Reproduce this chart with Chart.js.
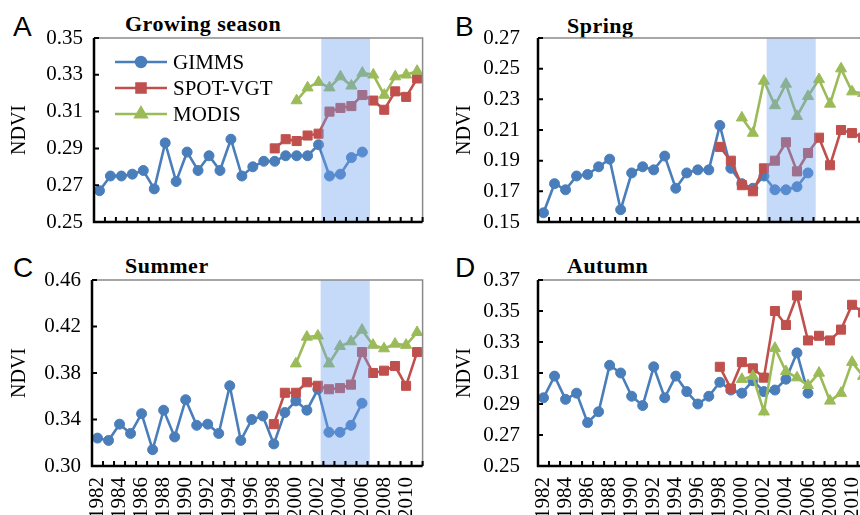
<!DOCTYPE html>
<html>
<head>
<meta charset="utf-8">
<script src="https://cdn.jsdelivr.net/npm/chart.js@4.4.0/dist/chart.umd.min.js"></script>
<style>
  html, body { margin: 0; padding: 0; background: #fff; }
  body { width: 860px; height: 515px; overflow: hidden; position: relative; font-family: "Liberation Serif", "Times New Roman", serif; }
  canvas { position: absolute; }
  .letter { position: absolute; font-family: "Liberation Sans", Arial, sans-serif; font-size: 28px; line-height: 28px; color: #000; }
  .title { position: absolute; font-weight: bold; font-size: 22px; line-height: 22px; color: #000; letter-spacing: 0.5px; }
</style>
</head>
<body>
<div class="letter" style="left:13px;top:13px">A</div>
<div class="title" style="left:125px;top:13px">Growing season</div>
<div class="letter" style="left:455px;top:13px">B</div>
<div class="title" style="left:567px;top:15px">Spring</div>
<div class="letter" style="left:13px;top:254px">C</div>
<div class="title" style="left:125px;top:255px">Summer</div>
<div class="letter" style="left:455px;top:254px">D</div>
<div class="title" style="left:567px;top:255px">Autumn</div>

<canvas id="chartA" width="430" height="240" style="left:0;top:0"></canvas>
<canvas id="chartB" width="446" height="240" style="left:430px;top:0"></canvas>
<canvas id="chartC" width="430" height="275" style="left:0;top:240px"></canvas>
<canvas id="chartD" width="446" height="275" style="left:430px;top:240px"></canvas>

<script>
const years = [
  "1982", "1983", "1984", "1985", "1986", "1987", "1988", "1989", "1990", "1991",
  "1992", "1993", "1994", "1995", "1996", "1997", "1998", "1999", "2000", "2001",
  "2002", "2003", "2004", "2005", "2006", "2007", "2008", "2009", "2010", "2011"
];
const seriesNames = ["GIMMS", "SPOT-VGT", "MODIS"];
const gimmsStart = 1982, spotStart = 1998, modisStart = 2000;

// A - growing season
const gimmsGrow = [0.267, 0.275, 0.275, 0.276, 0.278, 0.268, 0.293, 0.272, 0.288, 0.278,
  0.286, 0.278, 0.295, 0.275, 0.280, 0.283, 0.283, 0.286, 0.286, 0.286,
  0.292, 0.275, 0.276, 0.285, 0.288];
const spotGrow = [0.290, 0.295, 0.294, 0.297, 0.298, 0.310, 0.312, 0.313, 0.319, 0.316,
  0.311, 0.321, 0.318, 0.328];
const modisGrow = [0.316, 0.323, 0.326, 0.323, 0.329, 0.324, 0.331, 0.330, 0.319, 0.329,
  0.330, 0.332];

// B - spring
const gimmsSpring = [0.156, 0.175, 0.171, 0.180, 0.181, 0.186, 0.191, 0.158, 0.182, 0.186,
  0.184, 0.193, 0.172, 0.182, 0.184, 0.184, 0.213, 0.185, 0.175, 0.172,
  0.180, 0.171, 0.171, 0.173, 0.182];
const spotSpring = [0.199, 0.190, 0.174, 0.170, 0.185, 0.190, 0.202, 0.183, 0.195, 0.205,
  0.187, 0.210, 0.208, 0.205];
const modisSpring = [0.218, 0.208, 0.242, 0.226, 0.240, 0.219, 0.232, 0.243, 0.227, 0.250,
  0.235, 0.234];

// C - summer
const gimmsSummer = [0.324, 0.322, 0.336, 0.328, 0.345, 0.314, 0.348, 0.325, 0.357, 0.335,
  0.336, 0.328, 0.369, 0.322, 0.340, 0.343, 0.319, 0.346, 0.356, 0.348,
  0.366, 0.329, 0.329, 0.335, 0.354];
const spotSummer = [0.336, 0.363, 0.363, 0.372, 0.369, 0.366, 0.367, 0.370, 0.398, 0.380,
  0.382, 0.386, 0.369, 0.398];
const modisSummer = [0.388, 0.411, 0.412, 0.388, 0.403, 0.407, 0.417, 0.404, 0.401, 0.405,
  0.404, 0.415];

// D - autumn
const gimmsAutumn = [0.294, 0.308, 0.293, 0.297, 0.278, 0.285, 0.315, 0.310, 0.295, 0.289,
  0.314, 0.294, 0.308, 0.298, 0.290, 0.295, 0.304, 0.299, 0.297, 0.305,
  0.298, 0.299, 0.306, 0.323, 0.297];
const spotAutumn = [0.314, 0.300, 0.317, 0.313, 0.307, 0.350, 0.341, 0.360, 0.331, 0.334,
  0.331, 0.338, 0.354, 0.349];
const modisAutumn = [0.306, 0.308, 0.285, 0.326, 0.311, 0.307, 0.302, 0.310, 0.292, 0.297,
  0.317, 0.308];

// highlighted period (years, as drawn)
const shadeFrom = 2002.25, shadeTo = 2006.7;

const blue = "#4a7ebb", red = "#c0504d", green = "#9bbb59";
const serif = "'Liberation Serif', 'Times New Roman', serif";

function onYears(values, start) {
  const out = years.map(() => null);
  values.forEach((v, i) => { out[start - 1982 + i] = v; });
  return out;
}

const panelPlugin = {
  id: "panel",
  afterDatasetsDraw(chart, args, opts) {
    if (!opts.shade) return;
    const { ctx, chartArea: a, scales: { x } } = chart;
    const x0 = x.getPixelForValue(shadeFrom - 1982);
    const x1 = x.getPixelForValue(shadeTo - 1982);
    ctx.save();
    ctx.fillStyle = "rgba(110,160,240,0.4)";
    ctx.fillRect(x0, a.top, x1 - x0, a.bottom - a.top);
    ctx.restore();
  },
  afterDraw(chart, args, opts) {
    const { ctx, chartArea: a, scales: { x, y } } = chart;
    ctx.save();
    // thin grey frame top / right
    ctx.strokeStyle = "#8a8a8a";
    ctx.lineWidth = 1.5;
    ctx.beginPath();
    ctx.moveTo(a.left, a.top);
    ctx.lineTo(a.right, a.top);
    ctx.lineTo(a.right, a.bottom);
    ctx.stroke();
    // black axes
    ctx.strokeStyle = "#000";
    ctx.lineWidth = 2.5;
    ctx.beginPath();
    ctx.moveTo(a.left, a.top);
    ctx.lineTo(a.left, a.bottom);
    ctx.lineTo(a.right, a.bottom);
    ctx.stroke();
    // tick marks, inside
    ctx.lineWidth = 2;
    ctx.beginPath();
    for (let i = 0; i <= years.length; i++) {
      const px = x.getPixelForValue(i - 0.5);
      ctx.moveTo(px, a.bottom);
      ctx.lineTo(px, a.bottom - 5);
    }
    y.ticks.forEach((t, i) => {
      const py = y.getPixelForTick(i);
      ctx.moveTo(a.left, py);
      ctx.lineTo(a.left + 5, py);
    });
    ctx.stroke();

    // legend inside panel A
    if (opts.legend) {
      const rows = [62, 88, 114];
      chart.data.datasets.forEach((ds, i) => {
        const ly = rows[i];
        ctx.strokeStyle = ds.borderColor;
        ctx.fillStyle = ds.backgroundColor;
        ctx.lineWidth = 2.5;
        ctx.beginPath();
        ctx.moveTo(a.left + 21, ly);
        ctx.lineTo(a.left + 73, ly);
        ctx.stroke();
        Chart.helpers.drawPoint(ctx, { pointStyle: ds.pointStyle, radius: ds.pointRadius, rotation: 0, borderWidth: 1 }, a.left + 47, ly);
        ctx.fillStyle = "#000";
        ctx.font = "21px " + serif;
        ctx.textBaseline = "middle";
        ctx.textAlign = "left";
        ctx.fillText(ds.label, a.left + 79, ly + 1);
      });
    }
    ctx.restore();
  }
};

function makePanel(id, box, series, yr, flags) {
  const canvas = document.getElementById(id);
  const datasets = [
    { label: seriesNames[0], data: onYears(series[0], gimmsStart), borderColor: blue, backgroundColor: blue, pointStyle: "circle", pointRadius: 5, order: 3 },
    { label: seriesNames[1], data: onYears(series[1], spotStart), borderColor: red, backgroundColor: red, pointStyle: "rect", pointRadius: 6.4, order: 2 },
    { label: seriesNames[2], data: onYears(series[2], modisStart), borderColor: green, backgroundColor: green, pointStyle: "triangle", pointRadius: 6.4, order: 1 }
  ].map(ds => Object.assign(ds, { borderWidth: 2.6, pointBorderWidth: 1, tension: 0, spanGaps: false }));

  return new Chart(canvas, {
    type: "line",
    data: { labels: years, datasets: datasets },
    plugins: [panelPlugin],
    options: {
      responsive: false,
      animation: false,
      devicePixelRatio: 1,
      layout: { padding: { left: 0, top: box.top, right: canvas.width - box.right, bottom: 0 } },
      plugins: {
        legend: { display: false },
        tooltip: { enabled: false },
        panel: { shade: flags.shade, legend: flags.legend }
      },
      scales: {
        x: {
          type: "category",
          offset: true,
          grid: { display: false, drawTicks: false },
          border: { display: false },
          ticks: {
            display: flags.labels,
            autoSkip: false,
            minRotation: 90,
            maxRotation: 90,
            padding: 11,
            color: "#000",
            font: { family: serif, size: 21 },
            callback: (v, i) => (i % 2 === 0 ? years[i] : "")
          },
          afterFit(scale) {
            scale.height = canvas.height - box.bottom;
            scale.paddingLeft = 0;
            scale.paddingRight = 0;
          }
        },
        y: {
          min: yr.min,
          max: yr.max,
          grid: { display: false, drawTicks: false },
          border: { display: false },
          ticks: {
            stepSize: yr.step,
            padding: box.labelGap,
            color: "#000",
            font: { family: serif, size: 21 },
            callback: v => v.toFixed(2)
          },
          title: {
            display: true,
            text: "NDVI",
            color: "#000",
            font: { family: serif, size: 20 },
            padding: { top: box.titleGap, bottom: 0 }
          },
          afterFit(scale) {
            scale.width = box.left;
            scale.paddingTop = 0;
            scale.paddingBottom = 0;
          }
        }
      }
    }
  });
}

makePanel("chartA", { left: 94, top: 38, right: 426, bottom: 222, labelGap: 11, titleGap: 8 },
  [gimmsGrow, spotGrow, modisGrow], { min: 0.25, max: 0.35, step: 0.02 },
  { shade: true, legend: true, labels: false });
makePanel("chartB", { left: 108, top: 38, right: 440, bottom: 222, labelGap: 18, titleGap: 23 },
  [gimmsSpring, spotSpring, modisSpring], { min: 0.15, max: 0.27, step: 0.02 },
  { shade: true, legend: false, labels: false });
makePanel("chartC", { left: 92, top: 40, right: 425, bottom: 226, labelGap: 11, titleGap: 8 },
  [gimmsSummer, spotSummer, modisSummer], { min: 0.30, max: 0.46, step: 0.04 },
  { shade: true, legend: false, labels: true });
makePanel("chartD", { left: 108, top: 40, right: 440, bottom: 226, labelGap: 18, titleGap: 23 },
  [gimmsAutumn, spotAutumn, modisAutumn], { min: 0.25, max: 0.37, step: 0.02 },
  { shade: false, legend: false, labels: true });
</script>
</body>
</html>
